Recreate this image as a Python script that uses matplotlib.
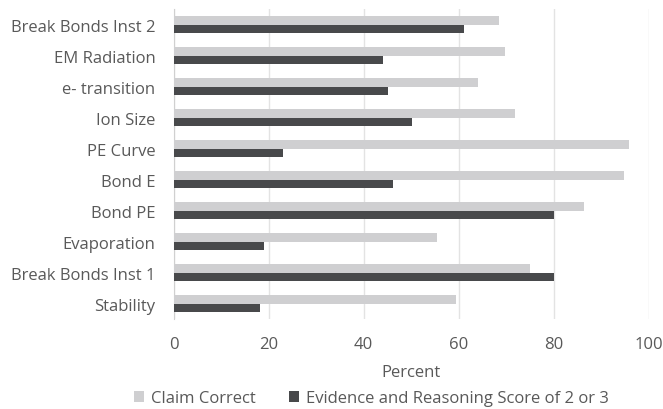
import matplotlib.pyplot as plt
import numpy as np

# ------------------------------
# DADES
# ------------------------------
categories = ['Break Bonds Inst 2', 'EM Radiation', 'e- transition', 'Ion Size',
              'PE Curve', 'Bond E', 'Bond PE', 'Evaporation',
              'Break Bonds Inst 1', 'Stability']
claim_correct = [68.5, 69.7, 64.1, 71.9, 95.9, 94.9, 86.5, 55.4, 75.0, 59.4]
evidence_reasoning = [61.1, 44.1, 45.1, 50.1, 23.0, 46.1, 80.1, 19.1, 80.0, 18.1]
xticks = [0, 20, 40, 60, 80, 100]

light = '#cfcfd1'
dark = '#48494b'
text_col = '#595959'

plt.rcParams['font.family'] = ['Open Sans', 'DejaVu Sans']

fig = plt.figure(figsize=(6.63, 4.10), dpi=100)
ax = fig.add_axes([0.2617, 0.2195, 0.7166, 0.756])

y = np.arange(len(categories))
h = 0.26
ax.barh(y - h / 2, claim_correct, height=h, color=light, label='Claim Correct', zorder=3)
ax.barh(y + h / 2, evidence_reasoning, height=h, color=dark,
        label='Evidence and Reasoning Score of 2 or 3', zorder=3)

ax.set_ylim(len(categories) - 0.5, -0.5)
ax.set_yticks(y)
ax.set_yticklabels(categories)
ax.set_xlim(0, 100)
ax.set_xticks(xticks)
ax.grid(axis='x', color='#e3e3e3', linewidth=1, zorder=0)

for s in ['top', 'right', 'bottom']:
    ax.spines[s].set_visible(False)
ax.spines['left'].set_color('#d0d0d0')
ax.tick_params(length=0, colors=text_col, labelsize=12)
ax.tick_params(axis='x', pad=12)
ax.tick_params(axis='y', pad=13)
ax.set_xlabel('Percent', color=text_col, fontsize=12, labelpad=9)

fig.legend(loc='lower center', bbox_to_anchor=(0.56, -0.03), ncol=2, frameon=False,
           fontsize=12, labelcolor=text_col, handlelength=0.6, handleheight=0.6,
           handletextpad=0.4, columnspacing=2.0)

plt.savefig('out.png', dpi=100)
